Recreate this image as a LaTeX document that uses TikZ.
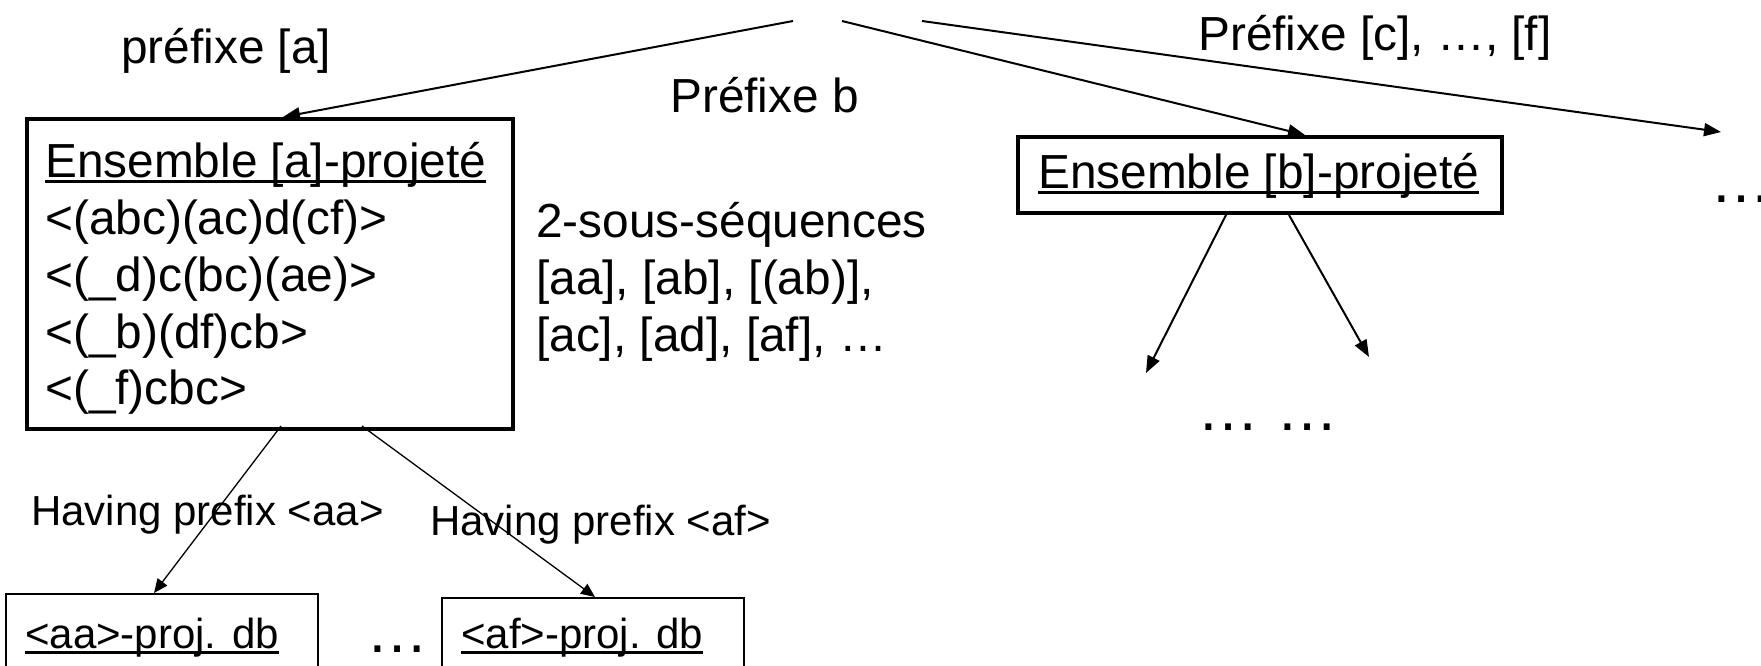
\documentclass[tikz,border=0pt]{standalone}
\usepackage{fontspec}
\setmainfont{Liberation Sans}
\usetikzlibrary{arrows.meta,calc}
\newcommand\myul[1]{\setbox0\hbox{#1}\rlap{\rule[-5.5pt]{\wd0}{2.4pt}}\box0}
\begin{document}
\begin{tikzpicture}[x=1pt,y=-1pt,
  txt/.style={anchor=base west, inner sep=0pt, font=\fontsize{47.8}{57}\selectfont},
  small/.style={anchor=base west, inner sep=0pt, font=\fontsize{42}{50}\selectfont},
  dots/.style={anchor=base west, inner sep=0pt, font=\fontsize{62}{62}\selectfont},
  box/.style={draw, line width=4pt, anchor=north west, inner sep=0pt},
  thinbox/.style={draw, line width=2pt, anchor=north west, inner sep=0pt},
  arr/.style={-{Triangle[length=17pt,width=13pt]}, line width=2pt},
  tarr/.style={-{Triangle[length=14pt,width=12pt]}, line width=1.3pt}]
\useasboundingbox (0,0) rectangle (1761,666);
\clip (0,0) rectangle (1761,666);

% origins of the top connectors
\coordinate (o1) at (793,21);
\coordinate (o2) at (842,21);
\coordinate (o3) at (922,21);
\coordinate (e3) at (1721,132);
\coordinate (b1) at (1146,373);
\coordinate (b2) at (1369,357);

% labels of the top connectors
\node[txt] (pa) at (121,64) {préfixe [a]};
\node[txt] (pb) at (670,113) {Préfixe b};
\node[txt] (pc) at (1198,51) {Préfixe [c], …, [f]};

% box A
\node[box, minimum width=486pt, minimum height=310pt] (A) at (25,117) {};
\node[txt] (a0) at (45,177) {\myul{Ensemble [a]-projeté}};
\node[txt] (a1) at (45,234) {<(abc)(ac)d(cf)>};
\node[txt] (a2) at (45,291) {<(\_d)c(bc)(ae)>};
\node[txt] (a3) at (45,348) {<(\_b)(df)cb>};
\node[txt] (a4) at (45,404) {<(\_f)cbc>};

% sub-sequences
\node[txt] (s1) at (536,237) {2-sous-séquences};
\node[txt] (s2) at (536,294) {[aa], [ab], [(ab)],};
\node[txt] (s3) at (536,351) {[ac], [ad], [af], …};

% box B
\node[box, minimum width=484pt, minimum height=76pt] (B) at (1016,135) {};
\node[txt] (bt) at (1038,188) {\myul{Ensemble [b]-projeté}};

\node[dots] (rd) at (1710,202) {…};
\node[dots] (bd) at (1197,430) {… …};

% Having labels
\node[small] (h1) at (31,525) {Having prefix <aa>};
\node[small] (h2) at (430,535) {Having prefix <af>};

% bottom boxes
\node[thinbox, minimum width=312pt, minimum height=100pt] (aa) at (5,593) {};
\node[small] (aat) at (25,648) {\myul{<aa>-proj. db}};
\node[thinbox, minimum width=302pt, minimum height=100pt] (af) at (441,597) {};
\node[small] (aft) at (461,648) {\myul{<af>-proj. db}};
\node[dots] (md) at (366,652) {…};

% connectors
\draw[arr] (o1) -- ($(A.north west)+(258,0)$);
\draw[arr] (o2) -- ($(B.north west)+(289,0)$);
\draw[arr] (o3) -- (e3);
\draw[arr] ($(B.south west)+(210,0)$) -- (b1);
\draw[arr] ($(B.south west)+(273,0)$) -- (b2);
\draw[tarr] ($(A.south west)+(256,-5)$) -- ($(aa.north west)+(149,0)$);
\draw[tarr] ($(A.south west)+(337,-5)$) -- ($(af.north west)+(154,0)$);
\end{tikzpicture}
\end{document}
